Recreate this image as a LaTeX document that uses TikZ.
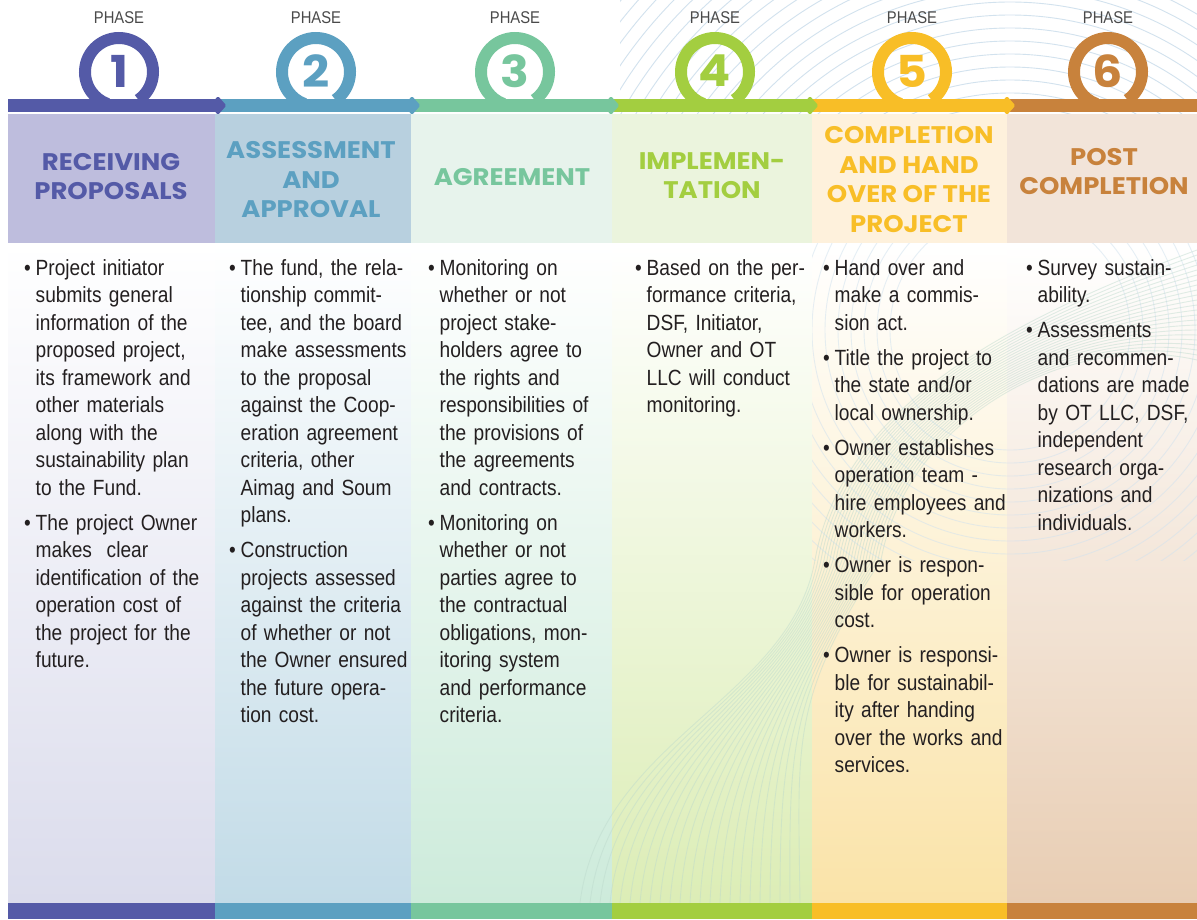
\documentclass[tikz,border=0pt]{standalone}
\usepackage{fontspec}
\newfontfamily\bodyfont{Liberation Sans}[FakeStretch=0.87]
\newfontfamily\headfont{Poppins}[FakeStretch=1.08]
\usetikzlibrary{calc,shapes.geometric}
\definecolor{ink}{HTML}{231F20}
\definecolor{phasegrey}{HTML}{4A4A4A}
\definecolor{decoblue}{HTML}{D2E2EE}
\definecolor{decogreen}{HTML}{BCD9CC}
% track / number colours
\definecolor{c1}{HTML}{545AA7}
\definecolor{c2}{HTML}{5CA0C1}
\definecolor{c3}{HTML}{77C69D}
\definecolor{c4}{HTML}{A3CE40}
\definecolor{c5}{HTML}{F8BE27}
\definecolor{c6}{HTML}{C8823C}
% header bands
\definecolor{h1}{HTML}{BEBDDD}
\definecolor{h2}{HTML}{B8D0DF}
\definecolor{h3}{HTML}{E7F3EC}
\definecolor{h4}{HTML}{EBF4DD}
\definecolor{h5}{HTML}{FEF1DC}
\definecolor{h6}{HTML}{F2E4D9}
% body gradients (bottom)
\definecolor{g1}{HTML}{DBDCEC}
\definecolor{g2}{HTML}{C2DBE7}
\definecolor{g3}{HTML}{CDEBDB}
\definecolor{g4}{HTML}{DCEDB6}
\definecolor{g5}{HTML}{FAE3A8}
\definecolor{g6}{HTML}{E8CDB3}
\newcommand\bodyset{\setlength{\parskip}{7.5pt}\setlength{\leftskip}{11.5pt}}
\newcommand\bpt{\par\noindent\llap{\makebox[11.5pt][l]{\textbullet}}}
\tikzset{
  phaselabel/.style={font=\bodyfont\fontsize{17}{17}\selectfont,text=phasegrey,inner sep=0},
  phasenum/.style={font=\headfont\bfseries\fontsize{44}{44}\selectfont,inner sep=0},
  headtxt/.style={font=\headfont\bfseries\fontsize{24}{29.5}\selectfont,align=center,inner sep=0},
  bodytxt/.style={font=\bodyfont\fontsize{22}{27.5}\selectfont,
                  text=ink,text width=200pt,align=left,inner sep=0,anchor=north west},
  ring/.style={line width=12pt},
  track/.style={line width=13pt},
  tipmark/.style={diamond,minimum width=17pt,minimum height=19pt,inner sep=0,rounded corners=1.5pt},
  deco/.style={draw=decoblue,line width=0.9pt}
}

\begin{document}
\begin{tikzpicture}[x=1pt,y=-1pt]
  \useasboundingbox (0,0) rectangle (1197,919);
  \fill[white] (0,0) rectangle (1197,919);
  % column bodies
  \foreach \i/\xl/\xr in {1/8/215,2/215/411,3/411/612,4/612/812,5/812/1007,6/1007/1197}{
    \shade[top color=white,bottom color=g\i] (\xl,243) rectangle (\xr,903);}
  % background waves
  \begin{scope}
    \clip (620,0) rectangle (1197,113);
    \foreach \r in {120,133,...,640}{\draw[deco] (1010,330) circle[radius=\r];}
  \end{scope}
  \begin{scope}
    \clip (812,243) rectangle (1197,560);
    \foreach \r in {120,133,...,640}{\draw[deco,opacity=0.55] (1010,330) circle[radius=\r];}
  \end{scope}
  \begin{scope}
    \clip (560,243) rectangle (1197,903);
    \foreach \k in {0,...,22}{
      \draw[deco,draw=decogreen,opacity=0.45] ({580+\k*10},903) .. controls ({600+\k*9},740) and (790,700) .. ({815+\k*3},560)
        .. controls ({840+\k*3},420) and ({980+\k*4},330) .. (1197,{250+\k*5});}
  \end{scope}
  % header bands and bottom bars
  \foreach \i/\xl/\xr in {1/8/215,2/215/411,3/411/612,4/612/812,5/812/1007,6/1007/1197}{
    \fill[h\i] (\xl,114) rectangle (\xr,243);
    \fill[c\i] (\xl,903) rectangle (\xr,919);}
  % track with loops
  \foreach \i/\xl/\xr/\rx in {1/8/218/119,2/218/412/316,3/412/611/515,4/611/810/715,5/810/1007/912,6/1007/1197/1108}{
    \coordinate (s\i) at (\xl,105.5);
    \coordinate (e\i) at (\xr,105.5);
    \coordinate (r\i) at (\rx,72);
    \draw[track,draw=c\i] (s\i) -- (e\i);
    \draw[ring,draw=c\i] ($(r\i)+(55:34)$) arc[start angle=55,end angle=-250,radius=34];
    \node[phasenum,text=c\i] (num\i) at ($(r\i)+(0,-1)$) {\i};
    \node[phaselabel] (phase\i) at (\rx,18) {PHASE};}
  \foreach \i in {1,...,5}{\node[tipmark,fill=c\i] (tip\i) at (e\i) {};}
  % headings
  \foreach \i/\hx/\hy/\txt in {1/111/176.5/{RECEIVING\\PROPOSALS},2/311/180/{ASSESSMENT\\AND\\APPROVAL},
      3/512/177/{AGREEMENT},4/712/175.5/{IMPLEMEN-\\TATION},
      5/909/179.5/{COMPLETION\\AND HAND\\OVER OF THE\\PROJECT},6/1104/171.5/{POST\\COMPLETION}}{
    \node[headtxt,text=c\i] (head\i) at (\hx,\hy) {\txt};}
  % bullet texts
  \node[bodytxt] (body1) at (24,240) {\bodyset\bpt Project initiator\\ submits general\\ information of the\\ proposed project,\\ its framework and\\ other materials\\ along with the\\ sustainability plan\\ to the Fund.
    \bpt The project Owner\\ makes\ \ clear\\ identification of the\\ operation cost of\\ the project for the\\ future.\par};
  \node[bodytxt] (body2) at (229,240) {\bodyset\bpt The fund, the rela-\\ tionship commit-\\ tee, and the board\\ make assessments\\ to the proposal\\ against the Coop-\\ eration agreement\\ criteria, other\\ Aimag and Soum\\ plans.
    \bpt Construction\\ projects assessed\\ against the criteria\\ of whether or not\\ the Owner ensured\\ the future opera-\\ tion cost.\par};
  \node[bodytxt] (body3) at (428,240) {\bodyset\bpt Monitoring on\\ whether or not\\ project stake-\\ holders agree to\\ the rights and\\ responsibilities of\\ the provisions of\\ the agreements\\ and contracts.
    \bpt Monitoring on\\ whether or not\\ parties agree to\\ the contractual\\ obligations, mon-\\ itoring system\\ and performance\\ criteria.\par};
  \node[bodytxt] (body4) at (635,240) {\bodyset\bpt Based on the per-\\ formance criteria,\\ DSF, Initiator,\\ Owner and OT\\ LLC will conduct\\ monitoring.\par};
  \node[bodytxt] (body5) at (823,240) {\bodyset\bpt Hand over and\\ make a commis-\\ sion act.
    \bpt Title the project to\\ the state and/or\\ local ownership.
    \bpt Owner establishes\\ operation team -\\ hire employees and\\ workers.
    \bpt Owner is respon-\\ sible for operation\\ cost.
    \bpt Owner is responsi-\\ ble for sustainabil-\\ ity after handing\\ over the works and\\ services.\par};
  \node[bodytxt] (body6) at (1026,240) {\bodyset\bpt Survey sustain-\\ ability.
    \bpt Assessments\\ and recommen-\\ dations are made\\ by OT LLC, DSF,\\ independent\\ research orga-\\ nizations and\\ individuals.\par};
\end{tikzpicture}
\end{document}
